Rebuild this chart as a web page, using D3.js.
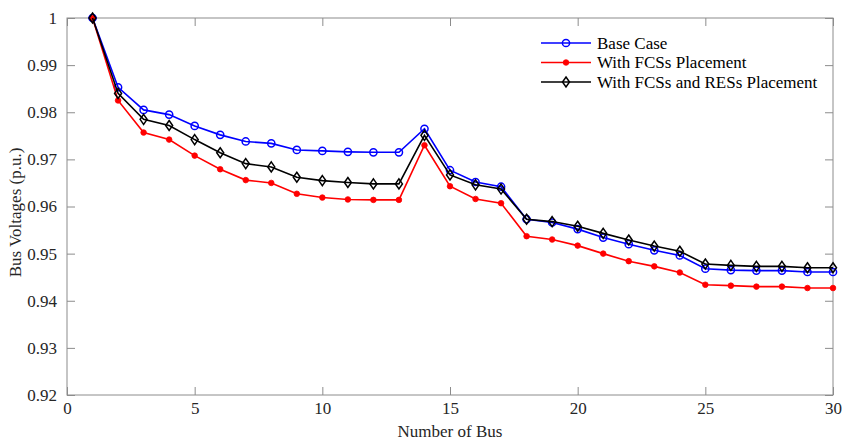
<!DOCTYPE html>
<html><head><meta charset="utf-8">
<script src="https://cdn.jsdelivr.net/npm/d3@7"></script>
<style>body{margin:0;background:#fff}svg{display:block}text{font-family:"Liberation Serif","Times New Roman",serif}</style>
</head><body><svg id="c" width="843" height="442"></svg>
<script>
const buses = d3.range(1, 31);
const baseCase = [1.0000,0.9853,0.9805,0.9795,0.9771,0.9752,0.9738,0.9734,0.9720,0.9718,0.9716,0.9715,0.9715,0.9765,0.9677,0.9652,0.9642,0.9573,0.9566,0.9552,0.9534,0.9520,0.9507,0.9496,0.9468,0.9465,0.9464,0.9464,0.9461,0.9461];
const withFCS = [1.0000,0.9825,0.9757,0.9742,0.9708,0.9679,0.9656,0.9650,0.9627,0.9619,0.9615,0.9614,0.9614,0.9730,0.9643,0.9616,0.9607,0.9537,0.9530,0.9517,0.9500,0.9484,0.9473,0.9460,0.9434,0.9432,0.9430,0.9430,0.9427,0.9427];
const withFCSRES = [1.0000,0.9840,0.9785,0.9772,0.9742,0.9714,0.9691,0.9684,0.9662,0.9655,0.9651,0.9648,0.9648,0.9751,0.9667,0.9646,0.9637,0.9573,0.9568,0.9558,0.9543,0.9529,0.9516,0.9505,0.9478,0.9475,0.9473,0.9473,0.9470,0.9470];
const seriesNames = ["Base Case","With FCSs Placement","With FCSs and RESs Placement"];
const xTicks = [0,5,10,15,20,25,30];
const yTicks = [0.92,0.93,0.94,0.95,0.96,0.97,0.98,0.99,1];

const svg = d3.select("#c");
const L=67,R=833,T=18,B=395;
const x = d3.scaleLinear().domain([0,30]).range([L,R]);
const y = d3.scaleLinear().domain([0.92,1]).range([B,T]);
const axisCol="#8c8c8c";
const FS="17px";

svg.append("rect").attr("x",L).attr("y",T).attr("width",R-L).attr("height",B-T)
  .attr("fill","none").attr("stroke",axisCol).attr("stroke-width",1);

const fmtY = d => d===1 ? "1" : d.toFixed(2);
const ax = (g)=>{g.select(".domain").remove(); g.selectAll(".tick line").attr("stroke",axisCol);
  g.selectAll("text").attr("fill","#262626").style("font-size",FS);};
svg.append("g").attr("transform",`translate(0,${B})`)
  .call(d3.axisBottom(x).tickValues(xTicks).tickSize(-8).tickPadding(7).tickFormat(d3.format("d"))).call(ax);
svg.append("g").attr("transform",`translate(0,${T})`)
  .call(d3.axisTop(x).tickValues(xTicks).tickSize(-8).tickFormat("")).call(ax);
svg.append("g").attr("transform",`translate(${L},0)`)
  .call(d3.axisLeft(y).tickValues(yTicks).tickSize(-8).tickPadding(10).tickFormat(fmtY)).call(ax);
svg.append("g").attr("transform",`translate(${R},0)`)
  .call(d3.axisRight(y).tickValues(yTicks).tickSize(-8).tickFormat("")).call(ax);

svg.append("text").attr("x",(L+R)/2).attr("y",437).attr("text-anchor","middle")
  .style("font-size",FS).attr("fill","#262626").text("Number of Bus");
svg.append("text").attr("transform",`translate(21,${(T+B)/2+6}) rotate(-90)`).attr("text-anchor","middle")
  .style("font-size",FS).attr("fill","#262626").text("Bus Voltages (p.u.)");

const data = [
  {name:seriesNames[0], vals:baseCase, color:"#0000ff", marker:"circle"},
  {name:seriesNames[1], vals:withFCS, color:"#ff0000", marker:"dot"},
  {name:seriesNames[2], vals:withFCSRES, color:"#000000", marker:"diamond"}
];
const line = d3.line().x((d,i)=>x(buses[i])).y(d=>y(d));

function drawMarker(g, cx, cy, s){
  if(s.marker==="circle"){
    g.append("circle").attr("cx",cx).attr("cy",cy).attr("r",3.6).attr("fill","none").attr("stroke",s.color).attr("stroke-width",1.5);
  } else if(s.marker==="dot"){
    g.append("circle").attr("cx",cx).attr("cy",cy).attr("r",2.8).attr("fill",s.color).attr("stroke",s.color).attr("stroke-width",0.8);
  } else {
    g.append("path").attr("d",`M${cx},${cy-5}L${cx+3.5},${cy}L${cx},${cy+5}L${cx-3.5},${cy}Z`)
      .attr("fill","none").attr("stroke",s.color).attr("stroke-width",1.5);
  }
}

data.forEach(s=>{
  const g = svg.append("g");
  g.append("path").datum(s.vals).attr("d",line).attr("fill","none").attr("stroke",s.color).attr("stroke-width",1.6);
  s.vals.forEach((v,i)=>drawMarker(g, x(buses[i]), y(v), s));
});

const lg = svg.append("g");
data.forEach((s,i)=>{
  const yy = 43 + i*19.5;
  lg.append("line").attr("x1",541).attr("x2",591).attr("y1",yy).attr("y2",yy).attr("stroke",s.color).attr("stroke-width",1.6);
  drawMarker(lg, 566, yy, s);
  lg.append("text").attr("x",597).attr("y",yy+5.5).style("font-size",FS).attr("fill","#000").text(s.name);
});
</script></body></html>
